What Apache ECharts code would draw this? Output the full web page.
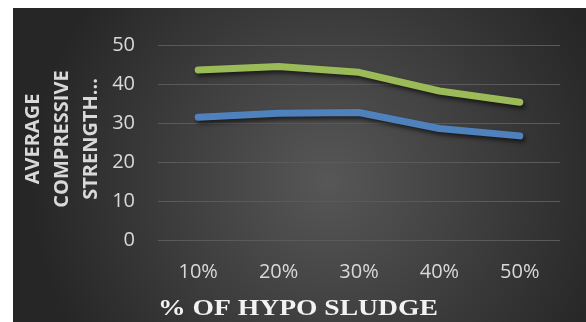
<!DOCTYPE html>
<html>
<head>
<meta charset="utf-8">
<script src="https://cdn.jsdelivr.net/npm/echarts@6/dist/echarts.min.js"></script>
<style>
  html, body { margin: 0; padding: 0; background: #fff; }
  #chart { width: 586px; height: 322px; }
</style>
</head>
<body>
<div id="chart"></div>
<script>
var categories = ['10%', '20%', '30%', '40%', '50%'];
var greenValues = [43.6, 44.5, 43.0, 38.2, 35.3];
var blueValues = [31.5, 32.5, 32.7, 28.6, 26.7];
var yTicks = [0, 10, 20, 30, 40, 50];
var xTitle = '% OF HYPO SLUDGE';
var yTitle = 'AVERAGE\nCOMPRESSIVE\nSTRENGTH...';

var chart = echarts.init(document.getElementById('chart'));

var lineShadow = {
  shadowColor: 'rgba(0,0,0,0.6)',
  shadowBlur: 4,
  shadowOffsetX: 2,
  shadowOffsetY: 3
};

chart.setOption({
  backgroundColor: '#ffffff',
  animation: false,
  graphic: [
    {
      type: 'rect',
      z: -10,
      shape: { x: 13, y: 8, width: 573, height: 314 },
      style: {
        fill: {
          type: 'radial', x: 0.55, y: 0.55, r: 0.95,
          colorStops: [
            { offset: 0, color: '#575757' },
            { offset: 1, color: '#262626' }
          ]
        }
      },
      silent: true
    },
    {
      type: 'text',
      x: 158,
      y: 297,
      scaleX: 1.15,
      style: {
        text: xTitle,
        font: 'bold 24px "Liberation Serif", serif',
        fill: '#f2f2f2',
        shadowColor: 'rgba(0,0,0,0.8)',
        shadowBlur: 3,
        shadowOffsetX: 1,
        shadowOffsetY: 2
      }
    },
    {
      type: 'text',
      x: 62,
      y: 139,
      rotation: Math.PI / 2,
      style: {
        text: yTitle,
        font: 'bold 20px "Open Sans", sans-serif',
        fill: '#d9d9d9',
        align: 'center',
        verticalAlign: 'middle',
        lineHeight: 29
      }
    }
  ],
  grid: { left: 158, right: 26, top: 45, bottom: 82 },
  xAxis: {
    type: 'category',
    data: categories,
    boundaryGap: true,
    axisLine: { show: false },
    axisTick: { show: false },
    axisLabel: {
      color: '#d9d9d9',
      fontSize: 20,
      fontFamily: '"Open Sans", sans-serif',
      margin: 22
    }
  },
  yAxis: {
    type: 'value',
    min: yTicks[0],
    max: yTicks[yTicks.length - 1],
    interval: 10,
    axisLine: { show: false },
    axisTick: { show: false },
    splitLine: { lineStyle: { color: '#5a5a5a', width: 1 } },
    axisLabel: {
      color: '#d9d9d9',
      fontSize: 20,
      fontFamily: '"Open Sans", sans-serif',
      margin: 23
    }
  },
  series: [
    {
      name: 'green',
      type: 'line',
      data: greenValues,
      symbol: 'none',
      lineStyle: Object.assign({ color: '#9bbb59', width: 7, cap: 'round', join: 'round' }, lineShadow)
    },
    {
      name: 'blue',
      type: 'line',
      data: blueValues,
      symbol: 'none',
      lineStyle: Object.assign({ color: '#4f81bd', width: 7, cap: 'round', join: 'round' }, lineShadow)
    }
  ]
});
</script>
</body>
</html>
